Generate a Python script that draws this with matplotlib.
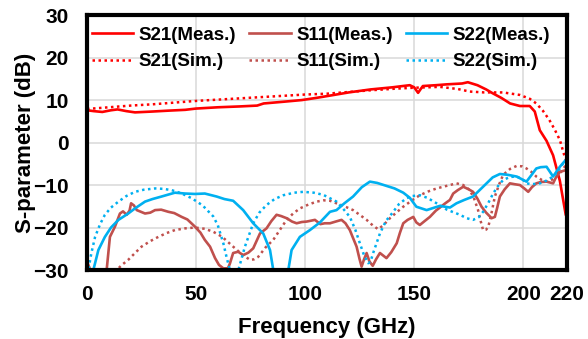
"""
S-parameter chart: measured vs simulated S21, S11 and S22 over 0-220 GHz.
"""

import matplotlib
matplotlib.use('Agg')
import matplotlib.pyplot as plt

plt.rcParams['font.family'] = ['Liberation Sans', 'DejaVu Sans']
plt.rcParams['font.weight'] = 'bold'

# S21 measured
s21_meas_f = [0, 3, 7, 11, 14, 18, 22, 30, 37, 45, 50, 60, 70, 78, 81, 90, 98.5,
              105, 112, 120, 130, 140, 148, 150, 151.8, 153, 154, 160, 165, 172,
              174.6, 179, 183, 186, 190, 194, 198.5, 203, 205.3, 207.6, 210.7,
              213.7, 216.8, 219.5, 220]
s21_meas_db = [7.6, 7.4, 7.2, 7.6, 7.8, 7.4, 7.1, 7.3, 7.5, 7.7, 8.0, 8.3, 8.5,
               8.7, 9.2, 9.6, 10.0, 10.5, 11.1, 11.8, 12.5, 13.0, 13.5, 13.0,
               11.7, 12.6, 13.3, 13.5, 13.7, 13.9, 14.2, 13.5, 12.5, 11.6, 10.5,
               9.2, 8.6, 8.6, 7.3, 2.9, 0.4, -3.0, -9.0, -17.0, -17.5]

# S21 simulated
s21_sim_f = [0, 10, 20, 30, 40, 50, 60, 70, 80, 90, 100, 110, 120, 130, 142,
             150, 161.8, 170, 175.5, 182, 190.7, 198.5, 203, 206, 209, 212,
             214.5, 216.8, 219, 220]
s21_sim_db = [7.9, 8.3, 8.7, 9.0, 9.4, 9.8, 10.1, 10.4, 10.7, 11.0, 11.3, 11.5,
              11.9, 12.3, 12.7, 12.9, 13.1, 12.6, 12.0, 11.8, 11.8, 11.2, 10.3,
              9.2, 7.5, 5.3, 3.0, 0.6, -3.3, -4.5]

# S11 measured
s11_meas_f = [0, 1.5, 3, 8, 9, 10.5, 12.8, 15.1, 16.5, 18.2, 19.5, 20.2, 21.5,
              22.8, 26.6, 29, 31.2, 34, 37.3, 40, 43.4, 46, 49.5, 52, 54, 56.4,
              58.7, 60.5, 62.5, 64.6, 65.5, 67, 69.3, 71.6, 74, 76.2, 79.3, 82.3,
              84.5, 86.9, 89, 91.5, 94, 96.1, 98.5, 100.7, 104.5, 107, 109,
              111.4, 114, 116.7, 118.5, 120.5, 122, 123.6, 125, 125.9, 127,
              128.2, 129.5, 131, 132.5, 134.3, 137.3, 139.5, 142, 143.5, 145,
              147, 149.6, 151, 152.6, 155, 157.2, 160, 161.8, 164, 166.4, 167.9,
              170, 172.5, 175, 177, 179, 180.9, 183, 185.5, 187, 188, 189.3,
              191.5, 193.9, 196, 198.5, 200.5, 202.3, 204, 206, 208, 210.7,
              213.7, 215, 216.8, 219.5, 220]
s11_meas_db = [-28, -30, -33, -33, -30, -22.2, -19.8, -16.7, -16.2, -17, -16,
               -14.3, -14.8, -15.9, -16.7, -16.5, -15.9, -15.8, -16.3, -16.6,
               -17.5, -18.1, -19.8, -21.2, -22.9, -24.5, -27.2, -28.8, -29.6,
               -29.6, -28.5, -26, -25.7, -26.5, -25.9, -24.9, -21.4, -20.2,
               -18.5, -17, -17.3, -17.8, -18.6, -19, -18.7, -18.6, -18.2, -19.2,
               -19.0, -19, -18.6, -18.2, -19, -20.6, -22.5, -24.5, -27.5, -29.2,
               -27.5, -26, -28, -29, -27.5, -26, -27.2, -25.8, -23.7, -21.2, -19,
               -18.2, -17.5, -18.8, -19.4, -18.4, -17.5, -16, -15.3, -14.4,
               -13.5, -12, -11.2, -10.4, -11, -11.6, -13.2, -15.1, -16.5, -17.8,
               -17.5, -15.5, -12.7, -11, -9.6, -9.8, -10, -10.8, -11.6, -10.5,
               -9.6, -9.3, -9.2, -9.6, -8.2, -6.9, -6.5, -6.0]

# S11 simulated
s11_sim_f = [10, 13.6, 16, 18.9, 22, 25, 29, 32.7, 36.5, 40.3, 45, 49.5, 54,
             57.9, 62, 67, 71, 74.7, 76.5, 78.5, 82, 85.4, 88.5, 91.5, 94.5,
             97.6, 101.5, 105.3, 108.5, 111.4, 114.4, 118, 122, 125, 128.2, 131,
             133.5, 136, 138.9, 142, 145, 149, 152.6, 156.5, 160.3, 163.3, 166.4,
             169.4, 172.5, 175.5, 177.5, 179.3, 180.5, 181.6, 183, 184, 185.5,
             187, 189, 190.8, 194, 197, 199.5, 201.5, 204, 206, 208.5, 210.7,
             213, 215.3, 217.5, 219, 220]
s11_sim_db = [-33, -30, -28.8, -27.6, -26, -24.5, -23.2, -22.2, -21.3, -20.6,
              -20.2, -20, -20.3, -21, -22.2, -24.5, -26.3, -27.6, -27.5, -26.9,
              -24.6, -22.9, -20.5, -18.2, -16.7, -15.5, -14.6, -13.9, -13.6,
              -13.7, -14.3, -15.0, -15.9, -17, -18.2, -19.5, -20.4, -19.4, -17.8,
              -16.4, -15.1, -13.6, -12.4, -11.5, -10.8, -10.4, -10, -9.6, -10.0,
              -11.2, -13.2, -15.9, -18.5, -20.6, -20.5, -19.8, -16.5, -12.7,
              -9.8, -7.6, -6.2, -5.5, -5.6, -6.1, -7.0, -8, -8.8, -9.2, -8.8, -8,
              -6.8, -5.7, -5.2]

# S22 measured
s22_meas_f = [1, 2.9, 5.2, 8.2, 11, 14.4, 18.9, 22, 26.6, 30, 34.2, 40.3, 45,
              49.5, 54, 59.4, 63, 67, 71.6, 76.2, 80.8, 83.9, 85.4, 86.5, 91,
              92.3, 93.8, 97.6, 102.2, 106.8, 111.4, 114.4, 118, 122, 126, 129.7,
              133, 137.3, 141, 145, 148, 151, 155.7, 161.8, 166.4, 169.4, 173,
              177, 180, 183.2, 186, 189.3, 193, 197, 201.5, 204, 206, 208, 210.7,
              213.7, 216.8, 219.5, 220]
s22_meas_db = [-31, -30, -25.3, -22.2, -20, -18.2, -16.7, -15.5, -13.9, -13.3,
               -12.7, -11.8, -12.0, -12.1, -12.0, -12.7, -13.3, -13.7, -15.9,
               -19, -21.4, -25.3, -30, -33, -33, -30, -25.3, -22.2, -20.6, -18.8,
               -16.3, -15.9, -14.3, -12.7, -10.5, -9.2, -9.5, -10.2, -10.8,
               -11.8, -13.0, -15.1, -15.9, -14.9, -15.3, -14.3, -13.5, -12.7,
               -11.2, -9.6, -8.2, -7.4, -7.6, -8.0, -9.2, -7.5, -6.1, -5.8, -5.7,
               -8.0, -5.7, -4.1, -4.0]

# S22 simulated
s22_sim_f = [0, 0.6, 2, 3.7, 6, 8.2, 11, 14.4, 18, 22, 26, 31.2, 35, 38.8, 43,
             48, 53, 57.9, 60, 62.5, 64, 65.5, 67.5, 69.4, 72.4, 76.2, 79, 82.3,
             86, 90, 95, 99.1, 104, 108.3, 111, 114.4, 117, 120.5, 123, 125.1,
             127, 128.9, 130, 131.2, 134.3, 137, 140.4, 143, 146.5, 149, 152.6,
             156, 160.3, 165, 171, 174, 177, 179.5, 181.6, 184, 186.2, 188.5,
             190.8, 194, 197, 199.5, 201.5, 204, 207.6, 210.5, 213.7, 216, 218.3,
             220]
s22_sim_db = [-31, -30, -26, -22.2, -19.2, -17, -15.3, -13.9, -12.6, -11.6,
              -11.1, -10.8, -10.9, -11.2, -11.9, -13.1, -14.8, -17.4, -19.5,
              -23.7, -27, -30, -32, -30, -24.5, -19, -16.5, -14.7, -13.3, -12.4,
              -11.8, -11.6, -11.8, -12.3, -13.0, -13.9, -15.3, -17.5, -20.5,
              -23.7, -26.5, -28.4, -28.0, -26, -21.4, -18.5, -16.3, -14.5, -13.1,
              -12.6, -12.4, -13.0, -14.3, -15.8, -17, -17.8, -18.2, -17.6, -16.3,
              -14.2, -12, -10.2, -8.8, -8.1, -8.0, -8.6, -9.6, -9.8, -9.6, -9.0,
              -8.0, -6.7, -4.9, -4.0]

x_ticks = [0, 50, 100, 150, 200, 220]
y_ticks = [-30, -20, -10, 0, 10, 20, 30]

red = '#FF0000'
brown = '#C0504D'
blue = '#00B0F0'
dots = (0, (1, 1.4))

fig = plt.figure(figsize=(5.88, 3.39), dpi=100)
ax = fig.add_axes([0.148, 0.2035, 0.816, 0.752])

ax.plot(s21_meas_f, s21_meas_db, color=red, lw=1.9, label='S21(Meas.)')
ax.plot(s21_sim_f, s21_sim_db, color=red, lw=1.8, ls=dots, label='S21(Sim.)')
ax.plot(s11_meas_f, s11_meas_db, color=brown, lw=1.9, label='S11(Meas.)')
ax.plot(s11_sim_f, s11_sim_db, color=brown, lw=1.8, ls=dots, label='S11(Sim.)')
ax.plot(s22_meas_f, s22_meas_db, color=blue, lw=1.9, label='S22(Meas.)')
ax.plot(s22_sim_f, s22_sim_db, color=blue, lw=1.8, ls=dots, label='S22(Sim.)')

ax.set_xlim(0, 220)
ax.set_ylim(-30, 30)
ax.set_xticks(x_ticks)
ax.set_yticks(y_ticks)
ax.grid(True, color='#d9d9d9', lw=1.1)
ax.set_axisbelow(True)
ax.tick_params(length=0, labelsize=15, pad=13)
ax.tick_params(axis='x', pad=11)
for spine in ax.spines.values():
    spine.set_linewidth(3)
    spine.set_color('black')

ax.set_xlabel('Frequency (GHz)', fontsize=16, fontweight='bold', labelpad=9)
ax.set_ylabel('S-parameter (dB)', fontsize=16, fontweight='bold', labelpad=-2)

ax.legend(loc='upper left', bbox_to_anchor=(0.01, 0.955), ncol=3,
          frameon=False, fontsize=13.5, handlelength=2.2, handletextpad=0.3,
          columnspacing=0.7, labelspacing=0.5, borderpad=0, borderaxespad=0)

fig.savefig('out.png', dpi=100)
